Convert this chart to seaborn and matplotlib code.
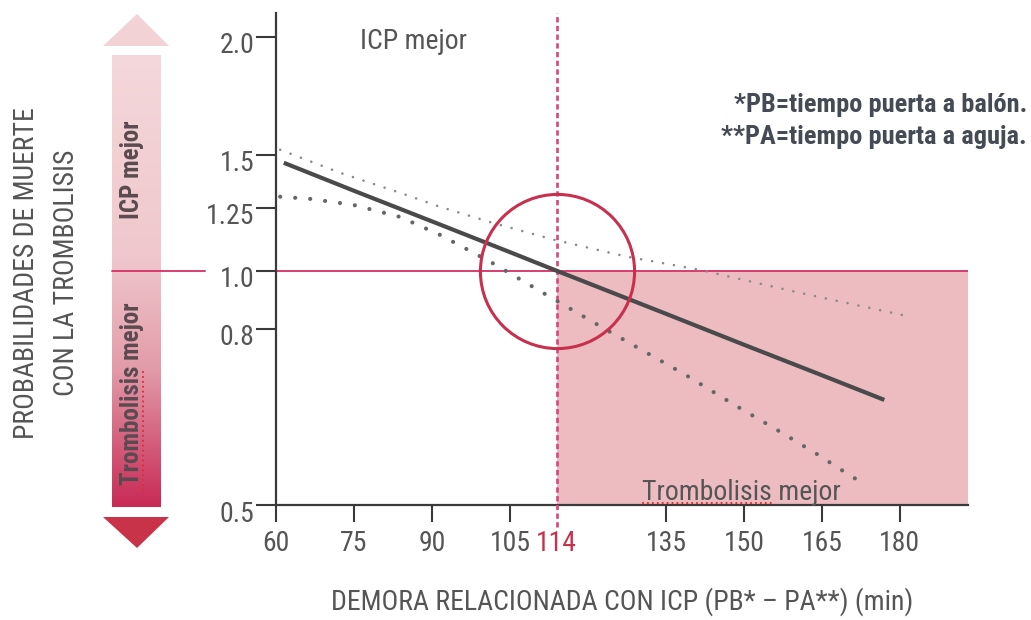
import numpy as np
import pandas as pd
import matplotlib
matplotlib.use("Agg")
import matplotlib.pyplot as plt
from matplotlib import font_manager
from matplotlib.colors import LinearSegmentedColormap
from matplotlib.transforms import ScaledTranslation
from matplotlib.patches import Polygon
import seaborn as sns

# ---------------- data ----------------
x_ticks = [60, 75, 90, 105, 114, 135, 150, 165, 180]
x_tick_labels = ["60", "75", "90", "105", "114", "135", "150", "165", "180"]
y_ticks = [0.5, 0.8, 1.0, 1.25, 1.5, 2.0]
y_tick_labels = ["0.5", "0.8", "1.0", "1.25", "1.5", "2.0"]

est_x = [61.5, 75, 90, 105, 114, 135, 150, 165, 177]
est_y = [1.462, 1.330, 1.196, 1.074, 1.0, 0.852, 0.773, 0.721, 0.679]

upper_x = [60.8, 72.3, 83.8, 91.5, 101.7, 113.5, 127.5, 141.5, 160.8, 181.2]
upper_y = [1.521, 1.415, 1.321, 1.255, 1.190, 1.123, 1.056, 1.004, 0.924, 0.845]

lower_x = [60.8, 66.5, 74.8, 83.8, 91.5, 101.2, 112.7, 124.6, 138.7, 147.9, 157.3, 164.0, 170.8, 173.7]
lower_y = [1.302, 1.292, 1.264, 1.214, 1.143, 1.036, 0.910, 0.793, 0.722, 0.672, 0.623, 0.587, 0.548, 0.534]

cross_x = 114
cross_y = 1.0
x_min, x_max = 60, 193.1
y_min, y_max = 0.5, 2.10

# ---------------- fonts ----------------
avail = {f.name for f in font_manager.fontManager.ttflist}
NARROW = "Liberation Sans"
for cand in ["Liberation Sans Narrow", "Arial Narrow", "Roboto Condensed",
             "Archivo Narrow", "PT Sans Narrow", "IBM Plex Sans Condensed",
             "Fira Sans Condensed"]:
    if cand in avail:
        NARROW = cand
        break
SCALE = 0.85 if NARROW == "Liberation Sans" else 1.0

sns.set_theme(style="white")
plt.rcParams["font.family"] = [NARROW, "DejaVu Sans"]

GRAY_TXT = "#555555"
CRIMSON = "#c8304e"
PINK_LINE = "#d63d6d"
DASH_PINK = "#d8457c"
SHADE = "#ecbcc0"

W, H = 1031, 620
fig = plt.figure(figsize=(W / 100, H / 100), dpi=100)
fig.patch.set_facecolor("white")

# main axes (pixel layout: x 276..968, y 13..505)
ax = fig.add_axes([276 / W, (H - 505) / H, (968 - 276) / W, (505 - 13) / H])
ax.set_facecolor("none")

# hand-drawn, non-uniform y axis -> piecewise scale
_val = np.array([0.0, 0.5, 0.8, 1.0, 1.25, 1.5, 2.0, 4.0])
_pos = np.array([-293, 0, 176, 234, 297, 350, 468, 940], dtype=float)
ax.set_yscale("function", functions=(lambda v: np.interp(v, _val, _pos),
                                     lambda p: np.interp(p, _pos, _val)))
ax.set_xlim(x_min, x_max)
ax.set_ylim(y_min, y_max)

# shaded "Trombolisis mejor" zone
ax.fill_between([cross_x, x_max], [y_min, y_min], [cross_y, cross_y],
                color=SHADE, lw=0, zorder=1)
ax.axhline(cross_y, color=PINK_LINE, lw=1.4, zorder=2)
ax.axvline(cross_x, ymin=-0.045, ymax=1.0, color=DASH_PINK, lw=1.9,
           linestyle=(0, (2.0, 1.3)), clip_on=False, zorder=3)

df_est = pd.DataFrame({"x": est_x, "y": est_y})
df_up = pd.DataFrame({"x": upper_x, "y": upper_y})
df_lo = pd.DataFrame({"x": lower_x, "y": lower_y})

sns.lineplot(data=df_up, x="x", y="y", ax=ax, color="#8a8a8a", lw=1.9,
             linestyle=(0, (0.01, 4.2)), dash_capstyle="round", zorder=4)
sns.lineplot(data=df_lo, x="x", y="y", ax=ax, color="#666666", lw=3.0,
             linestyle=(0, (0.01, 3.6)), dash_capstyle="round", zorder=4)
sns.lineplot(data=df_est, x="x", y="y", ax=ax, color="#4a4a4a", lw=3.0,
             solid_capstyle="butt", zorder=5)

# circle around the crossing point
ax.plot([cross_x], [cross_y], marker="o", ms=111, mfc="none", mec=CRIMSON,
        mew=2.2, zorder=6, clip_on=False)

# texts inside the plot
ax.text(86.5, 1.98, "ICP mejor", fontsize=20 * SCALE, color=GRAY_TXT,
        ha="center", va="center")
ax.text(149.6, 0.509, "Trombolisis mejor", fontsize=20 * SCALE, color=GRAY_TXT,
        ha="center", va="baseline", zorder=7)

# axes styling
for s in ["top", "right"]:
    ax.spines[s].set_visible(False)
for s in ["left", "bottom"]:
    ax.spines[s].set_color("#3a3a3a")
    ax.spines[s].set_linewidth(1.6)

ax.set_xticks(x_ticks)
ax.set_xticklabels(x_tick_labels)
ax.set_yticks(y_ticks)
ax.set_yticklabels(y_tick_labels)
ax.minorticks_off()
ax.tick_params(axis="x", direction="out", length=12, width=1.5, color="#3a3a3a",
               labelsize=20 * SCALE, labelcolor=GRAY_TXT, pad=6, bottom=True)
ax.tick_params(axis="y", direction="out", length=14.5, width=1.5, color="#3a3a3a",
               labelsize=20 * SCALE, labelcolor=GRAY_TXT, pad=1, left=True)
xt = ax.xaxis.get_major_ticks()
xt[x_ticks.index(cross_x)].tick1line.set_visible(False)
ax.get_xticklabels()[x_ticks.index(cross_x)].set_color(CRIMSON)
yt = ax.yaxis.get_major_ticks()
yt[y_ticks.index(cross_y)].tick1line.set_color(PINK_LINE)
for lab in ax.get_yticklabels():
    lab.set_transform(lab.get_transform() + ScaledTranslation(0, -6 / 100, fig.dpi_scale_trans))

ax.set_xlabel("DEMORA RELACIONADA CON ICP (PB* – PA**) (min)", fontsize=20 * SCALE,
              color=GRAY_TXT, labelpad=22)
ax.set_ylabel("PROBABILIDADES DE MUERTE\nCON LA TROMBOLISIS", fontsize=20 * SCALE,
              color=GRAY_TXT, linespacing=1.6)
ax.yaxis.set_label_coords((80 - 276) / (968 - 276), (505 - 273) / (505 - 13))

# ---------------- overlay (pixel coordinates) ----------------
ov = fig.add_axes([0, 0, 1, 1], zorder=-1)
ov.set_xlim(0, W)
ov.set_ylim(H, 0)
ov.axis("off")

cmap = LinearSegmentedColormap.from_list(
    "bar", [(0.0, "#f4d8db"), (0.45, "#efc7cc"), (0.7, "#e29aa8"), (1.0, "#c82a55")])
grad = np.linspace(0, 1, 256).reshape(-1, 1)
ov.imshow(grad, cmap=cmap, aspect="auto", extent=[112, 161, 507, 55],
          interpolation="bilinear", zorder=1)
ov.add_patch(Polygon([(103, 46), (169, 46), (137, 14)], closed=True,
                     color="#f2d2d5", lw=0, zorder=1))
ov.add_patch(Polygon([(103, 517), (169, 517), (137, 548)], closed=True,
                     color="#c8334a", lw=0, zorder=1))
ov.plot([112, 205], [271, 271], color=PINK_LINE, lw=1.4, zorder=2)
ov.text(132, 170, "ICP mejor", rotation=90, fontsize=18 * SCALE, fontweight="bold",
        color="#5b4a50", ha="center", va="center", zorder=3)
ov.text(132, 394, "Trombolisis mejor", rotation=90, fontsize=18 * SCALE,
        fontweight="bold", color="#5b4a50", ha="center", va="center", zorder=3)
# spell-check style red dotted underlines seen in the reference
ov.plot([143, 143], [372, 490], color="#e0302a", lw=1.6,
        linestyle=(0, (0.01, 2.2)), dash_capstyle="round", zorder=4)
fig.add_artist(plt.Line2D([643 / W, 772 / W], [(H - 503) / H, (H - 503) / H],
                          color="#e0302a", lw=1.6, linestyle=(0, (0.01, 2.2)),
                          dash_capstyle="round", zorder=10))

ov.text(1027, 105, "*PB=tiempo puerta a balón.", fontsize=19 * SCALE,
        fontweight="bold", color="#454b55", ha="right", va="center")
ov.text(1027, 137, "**PA=tiempo puerta a aguja.", fontsize=19 * SCALE,
        fontweight="bold", color="#454b55", ha="right", va="center")

fig.savefig("out.png", dpi=100, facecolor="white")
